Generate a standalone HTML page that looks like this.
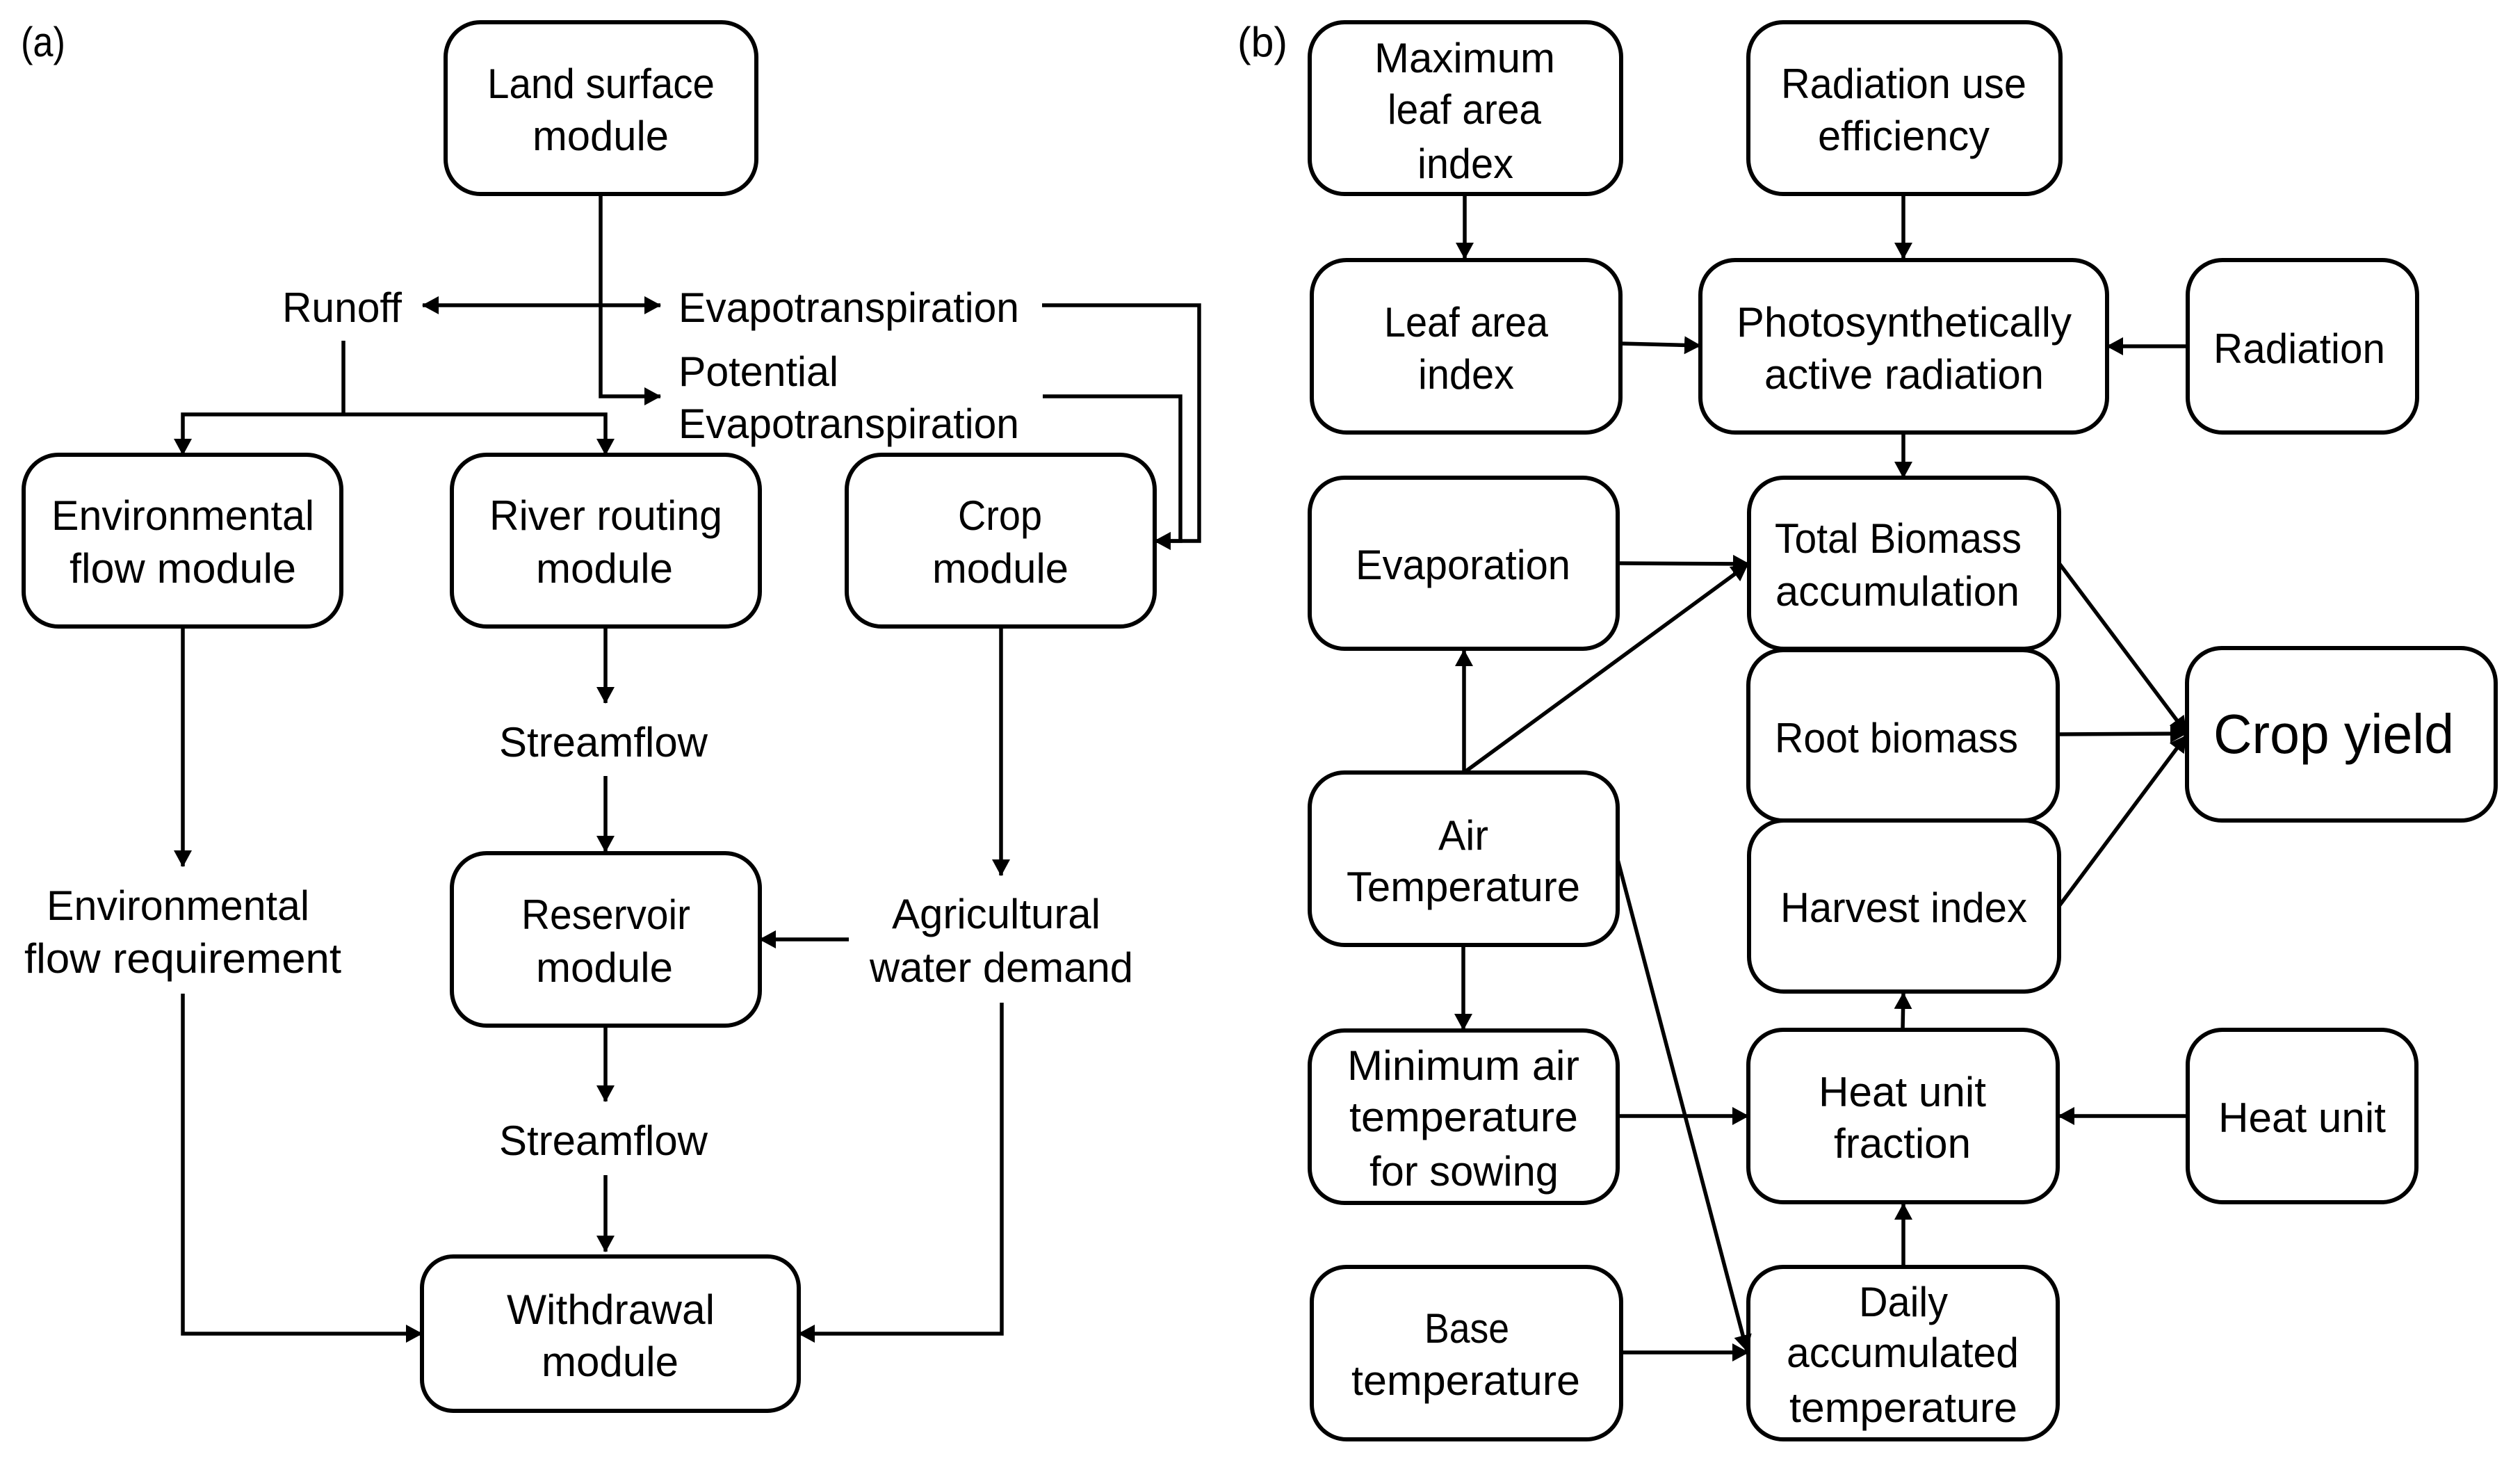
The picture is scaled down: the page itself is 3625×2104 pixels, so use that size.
<!DOCTYPE html>
<html><head><meta charset="utf-8"><style>
html,body{margin:0;padding:0;background:#fff;width:3625px;height:2104px;overflow:hidden}
svg{display:block}
text{font-family:"Liberation Sans",sans-serif;font-size:60px;fill:#000}
.b rect{fill:#fff;stroke:#000;stroke-width:6}
.c path{fill:none;stroke:#000;stroke-width:5.5}
</style></head><body>
<svg width="3625" height="2104" viewBox="0 0 3625 2104" xmlns="http://www.w3.org/2000/svg">
<defs><marker id="a" markerUnits="userSpaceOnUse" markerWidth="24" markerHeight="28" refX="23" refY="14" orient="auto-start-reverse"><path d="M0 1L24 14L0 27z" fill="#000"/></marker></defs>
<g class="b">
<rect x="641" y="32" width="447" height="247" rx="50"/>
<rect x="34" y="654" width="457" height="247" rx="50"/>
<rect x="650" y="654" width="443" height="247" rx="50"/>
<rect x="1218" y="654" width="443" height="247" rx="50"/>
<rect x="650" y="1227" width="443" height="248" rx="50"/>
<rect x="607" y="1807" width="542" height="222" rx="45"/>
<rect x="1884" y="32" width="448" height="247" rx="50"/>
<rect x="2515" y="32" width="449" height="247" rx="50"/>
<rect x="1887" y="374" width="444" height="248" rx="50"/>
<rect x="2446" y="374" width="585" height="248" rx="50"/>
<rect x="3147" y="374" width="330" height="248" rx="50"/>
<rect x="1884" y="687" width="443" height="246" rx="50"/>
<rect x="2516" y="687" width="446" height="246" rx="50"/>
<rect x="2515" y="935" width="445" height="245" rx="50"/>
<rect x="3146" y="932" width="444" height="248" rx="50"/>
<rect x="2516" y="1180" width="446" height="246" rx="50"/>
<rect x="2515" y="1481" width="445" height="248" rx="50"/>
<rect x="3147" y="1481" width="329" height="248" rx="50"/>
<rect x="1884" y="1111" width="443" height="248" rx="50"/>
<rect x="1884" y="1482" width="443" height="248" rx="50"/>
<rect x="1887" y="1822" width="445" height="248" rx="50"/>
<rect x="2515" y="1822" width="445" height="248" rx="50"/>
</g>
<g class="c">
<path d="M864 279V570H950" marker-end="url(#a)"/>
<path d="M608 439H950" marker-start="url(#a)" marker-end="url(#a)"/>
<path d="M494 490V596"/>
<path d="M263 654V596H871V654" marker-start="url(#a)" marker-end="url(#a)"/>
<path d="M1499 439H1725V778H1661" marker-end="url(#a)"/>
<path d="M1500 570H1698V778H1661" marker-end="url(#a)"/>
<path d="M263 901V1246" marker-end="url(#a)"/>
<path d="M871 901V1011" marker-end="url(#a)"/>
<path d="M1440 901V1259" marker-end="url(#a)"/>
<path d="M871 1116V1225" marker-end="url(#a)"/>
<path d="M1221 1351H1093" marker-end="url(#a)"/>
<path d="M871 1475V1584" marker-end="url(#a)"/>
<path d="M871 1690V1800" marker-end="url(#a)"/>
<path d="M263 1429V1918H607" marker-end="url(#a)"/>
<path d="M1441 1442V1918H1149" marker-end="url(#a)"/>
<path d="M2107 279V372" marker-end="url(#a)"/>
<path d="M2738 279V372" marker-end="url(#a)"/>
<path d="M2331 494L2446 497" marker-end="url(#a)"/>
<path d="M3147 498H3031" marker-end="url(#a)"/>
<path d="M2738 622V687" marker-end="url(#a)"/>
<path d="M2327 810L2516 811" marker-end="url(#a)"/>
<path d="M2106 1111V935" marker-end="url(#a)"/>
<path d="M2106 1111L2514 812" marker-end="url(#a)"/>
<path d="M2962 810L3145 1054" marker-end="url(#a)"/>
<path d="M2961 1056L3145 1055" marker-end="url(#a)"/>
<path d="M2962 1303L3145 1058" marker-end="url(#a)"/>
<path d="M2105 1359V1481" marker-end="url(#a)"/>
<path d="M2327 1236L2513 1943" marker-end="url(#a)"/>
<path d="M2327 1605H2515" marker-end="url(#a)"/>
<path d="M3147 1605H2961" marker-end="url(#a)"/>
<path d="M2737 1481L2738 1428" marker-end="url(#a)"/>
<path d="M2738 1822V1731" marker-end="url(#a)"/>
<path d="M2332 1945H2515" marker-end="url(#a)"/>
</g>
<g transform="translate(0,2)">
<text x="30" y="79" textLength="64" lengthAdjust="spacingAndGlyphs">(a)</text>
<text x="1780" y="79" textLength="72" lengthAdjust="spacingAndGlyphs">(b)</text>
<text x="701" y="139" textLength="327" lengthAdjust="spacingAndGlyphs">Land surface</text>
<text x="766" y="214" textLength="196" lengthAdjust="spacingAndGlyphs">module</text>
<text x="406" y="461" textLength="172" lengthAdjust="spacingAndGlyphs">Runoff</text>
<text x="976" y="461" textLength="490" lengthAdjust="spacingAndGlyphs">Evapotranspiration</text>
<text x="976" y="553" textLength="230" lengthAdjust="spacingAndGlyphs">Potential</text>
<text x="976" y="628" textLength="490" lengthAdjust="spacingAndGlyphs">Evapotranspiration</text>
<text x="74" y="760" textLength="378" lengthAdjust="spacingAndGlyphs">Environmental</text>
<text x="100" y="836" textLength="326" lengthAdjust="spacingAndGlyphs">flow module</text>
<text x="704" y="760" textLength="335" lengthAdjust="spacingAndGlyphs">River routing</text>
<text x="771" y="836" textLength="197" lengthAdjust="spacingAndGlyphs">module</text>
<text x="1378" y="760" textLength="121" lengthAdjust="spacingAndGlyphs">Crop</text>
<text x="1341" y="836" textLength="196" lengthAdjust="spacingAndGlyphs">module</text>
<text x="718" y="1086" textLength="300" lengthAdjust="spacingAndGlyphs">Streamflow</text>
<text x="67" y="1321" textLength="378" lengthAdjust="spacingAndGlyphs">Environmental</text>
<text x="35" y="1397" textLength="456" lengthAdjust="spacingAndGlyphs">flow requirement</text>
<text x="750" y="1334" textLength="243" lengthAdjust="spacingAndGlyphs">Reservoir</text>
<text x="771" y="1410" textLength="197" lengthAdjust="spacingAndGlyphs">module</text>
<text x="1283" y="1333" textLength="300" lengthAdjust="spacingAndGlyphs">Agricultural</text>
<text x="1251" y="1410" textLength="379" lengthAdjust="spacingAndGlyphs">water demand</text>
<text x="718" y="1659" textLength="300" lengthAdjust="spacingAndGlyphs">Streamflow</text>
<text x="729" y="1902" textLength="299" lengthAdjust="spacingAndGlyphs">Withdrawal</text>
<text x="779" y="1977" textLength="197" lengthAdjust="spacingAndGlyphs">module</text>
<text x="1977" y="102" textLength="260" lengthAdjust="spacingAndGlyphs">Maximum</text>
<text x="1996" y="176" textLength="221" lengthAdjust="spacingAndGlyphs">leaf area</text>
<text x="2039" y="254" textLength="138" lengthAdjust="spacingAndGlyphs">index</text>
<text x="2562" y="139" textLength="353" lengthAdjust="spacingAndGlyphs">Radiation use</text>
<text x="2615" y="214" textLength="247" lengthAdjust="spacingAndGlyphs">efficiency</text>
<text x="1991" y="482" textLength="236" lengthAdjust="spacingAndGlyphs">Leaf area</text>
<text x="2040" y="557" textLength="138" lengthAdjust="spacingAndGlyphs">index</text>
<text x="2498" y="482" textLength="482" lengthAdjust="spacingAndGlyphs">Photosynthetically</text>
<text x="2538" y="557" textLength="402" lengthAdjust="spacingAndGlyphs">active radiation</text>
<text x="3184" y="520" textLength="247" lengthAdjust="spacingAndGlyphs">Radiation</text>
<text x="1950" y="831" textLength="309" lengthAdjust="spacingAndGlyphs">Evaporation</text>
<text x="2553" y="793" textLength="355" lengthAdjust="spacingAndGlyphs">Total Biomass</text>
<text x="2554" y="869" textLength="351" lengthAdjust="spacingAndGlyphs">accumulation</text>
<text x="2553" y="1080" textLength="350" lengthAdjust="spacingAndGlyphs">Root biomass</text>
<text x="3184" y="1081" textLength="346" lengthAdjust="spacingAndGlyphs" style="font-size:80px">Crop yield</text>
<text x="2069" y="1220" textLength="72" lengthAdjust="spacingAndGlyphs">Air</text>
<text x="1937" y="1294" textLength="336" lengthAdjust="spacingAndGlyphs">Temperature</text>
<text x="2561" y="1324" textLength="355" lengthAdjust="spacingAndGlyphs">Harvest index</text>
<text x="1938" y="1551" textLength="334" lengthAdjust="spacingAndGlyphs">Minimum air</text>
<text x="1941" y="1625" textLength="329" lengthAdjust="spacingAndGlyphs">temperature</text>
<text x="1970" y="1703" textLength="272" lengthAdjust="spacingAndGlyphs">for sowing</text>
<text x="2616" y="1589" textLength="241" lengthAdjust="spacingAndGlyphs">Heat unit</text>
<text x="2638" y="1663" textLength="197" lengthAdjust="spacingAndGlyphs">fraction</text>
<text x="3191" y="1626" textLength="241" lengthAdjust="spacingAndGlyphs">Heat unit</text>
<text x="2049" y="1929" textLength="122" lengthAdjust="spacingAndGlyphs">Base</text>
<text x="1944" y="2004" textLength="329" lengthAdjust="spacingAndGlyphs">temperature</text>
<text x="2674" y="1891" textLength="128" lengthAdjust="spacingAndGlyphs">Daily</text>
<text x="2570" y="1964" textLength="334" lengthAdjust="spacingAndGlyphs">accumulated</text>
<text x="2574" y="2043" textLength="328" lengthAdjust="spacingAndGlyphs">temperature</text>
</g>
</svg>
</body></html>
